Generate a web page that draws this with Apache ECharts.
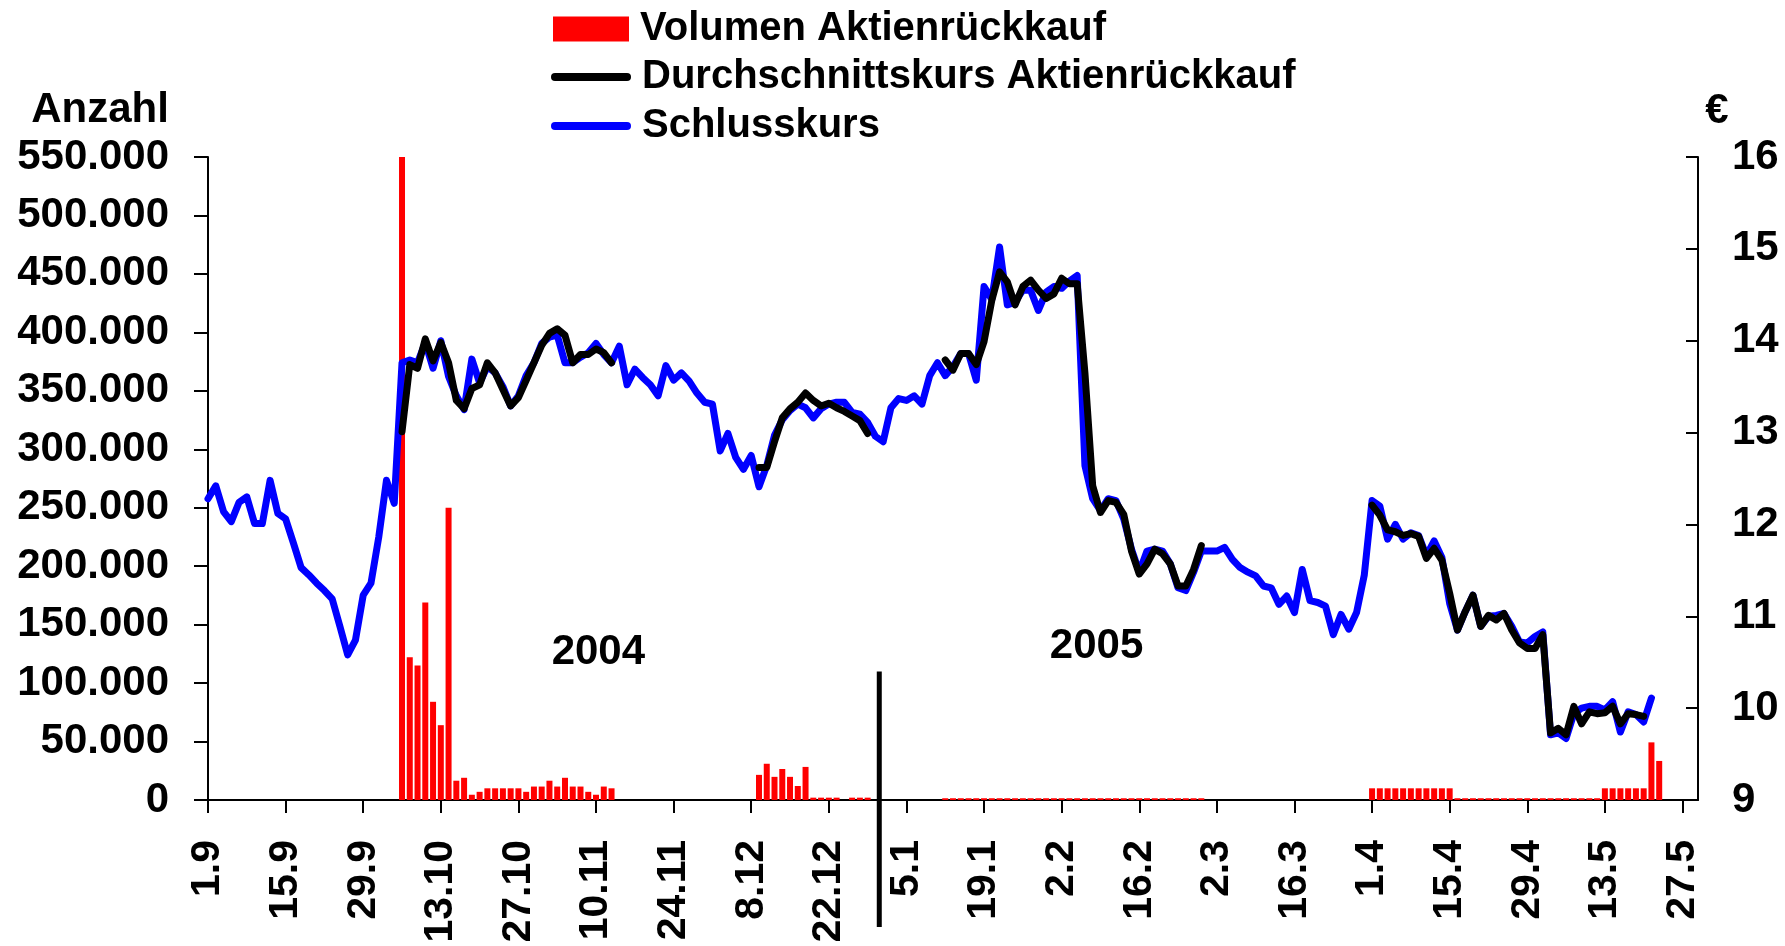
<!DOCTYPE html>
<html>
<head>
<meta charset="utf-8">
<script src="https://cdn.jsdelivr.net/npm/echarts@6/dist/echarts.min.js"></script>
<style>
  html, body { margin: 0; padding: 0; background: #fff; }
  #chart { width: 1785px; height: 946px; }
</style>
</head>
<body>
<div id="chart"></div>
<script>
// Handelstage 1.9.2004 - 31.5.2005
const days = [
  '1.9 2.9 3.9 6.9 7.9 8.9 9.9 10.9 13.9 14.9 15.9 16.9 17.9 20.9 21.9 22.9 23.9 24.9 27.9 28.9 29.9 30.9',
  '1.10 4.10 5.10 6.10 7.10 8.10 11.10 12.10 13.10 14.10 15.10 18.10 19.10 20.10 21.10 22.10 25.10 26.10 27.10 28.10 29.10',
  '1.11 2.11 3.11 4.11 5.11 8.11 9.11 10.11 11.11 12.11 15.11 16.11 17.11 18.11 19.11 22.11 23.11 24.11 25.11 26.11 29.11 30.11',
  '1.12 2.12 3.12 6.12 7.12 8.12 9.12 10.12 13.12 14.12 15.12 16.12 17.12 20.12 21.12 22.12 23.12 24.12 27.12 28.12 29.12 30.12 31.12',
  '3.1 4.1 5.1 6.1 7.1 10.1 11.1 12.1 13.1 14.1 17.1 18.1 19.1 20.1 21.1 24.1 25.1 26.1 27.1 28.1 31.1',
  '1.2 2.2 3.2 4.2 7.2 8.2 9.2 10.2 11.2 14.2 15.2 16.2 17.2 18.2 21.2 22.2 23.2 24.2 25.2 28.2',
  '1.3 2.3 3.3 4.3 7.3 8.3 9.3 10.3 11.3 14.3 15.3 16.3 17.3 18.3 21.3 22.3 23.3 24.3 29.3 30.3 31.3',
  '1.4 4.4 5.4 6.4 7.4 8.4 11.4 12.4 13.4 14.4 15.4 18.4 19.4 20.4 21.4 22.4 25.4 26.4 27.4 28.4 29.4',
  '2.5 3.5 4.5 5.5 6.5 9.5 10.5 11.5 12.5 13.5 16.5 17.5 18.5 19.5 20.5 23.5 24.5 25.5 26.5 27.5 30.5 31.5'
].join(' ').split(' ')

// Stückzahl Rückkauf je Tag
const volumen = [
  null, null, null, null, null, null, null, null, null, null,
  null, null, null, null, null, null, null, null, null, null,
  null, null, null, null, null, 550000, 122000, 115000, 169000, 84000,
  64000, 250000, 16500, 19000, 4500, 7000, 10000, 10000, 10000, 10000,
  10000, 7000, 11500, 11500, 16500, 11500, 19000, 11500, 11500, 7000,
  4500, 11500, 10000, null, null, null, null, null, null, null,
  null, null, null, null, null, null, null, null, null, null,
  null, 21500, 31000, 19800, 26500, 19800, 12000, 28300, 2000, 2000,
  2000, 2000, null, 2000, 2000, 2000, null, null, null, null,
  null, null, null, null, null, 1500, 1500, 1500, 1500, 1500,
  1500, 1500, 1500, 1500, 1500, 1500, 1500, 1500, 1500, 1500,
  1500, 1500, 1500, 1500, 1500, 1500, 1500, 1500, 1500, 1500,
  1500, 1500, 1500, 1500, 1500, 1500, 1500, 1500, 1500, null,
  null, null, null, null, null, null, null, null, null, null,
  null, null, null, null, null, null, null, null, null, null,
  10000, 10000, 10000, 10000, 10000, 10000, 10000, 10000, 10000, 10000,
  10000, 1500, 1500, 1500, 1500, 1500, 1500, 1500, 1500, 1500,
  1500, 1500, 1500, 1500, 1500, 1500, 1500, 1500, 1500, 1500,
  10000, 10000, 10000, 10000, 10000, 10000, 49300, 33400, null, null,
  null, null, null
]

// Durchschnittskurs Rückkauf (€)
const durchschnitt = [
  null, null, null, null, null, null, null, null, null, null,
  null, null, null, null, null, null, null, null, null, null,
  null, null, null, null, null, 13.01, 13.74, 13.70, 14.02, 13.78,
  13.98, 13.76, 13.35, 13.26, 13.48, 13.52, 13.76, 13.65, 13.47, 13.29,
  13.38, 13.57, 13.76, 13.95, 14.08, 14.13, 14.06, 13.76, 13.85, 13.85,
  13.91, 13.87, 13.76, null, null, null, null, null, null, null,
  null, null, null, null, null, null, null, null, null, null,
  null, 12.62, 12.62, 12.90, 13.16, 13.26, 13.33, 13.43, 13.35, 13.29,
  13.32, 13.27, 13.23, 13.18, 13.13, 12.99, null, null, null, null,
  null, null, null, null, null, 13.79, 13.68, 13.86, 13.86, 13.74,
  13.99, 14.44, 14.75, 14.64, 14.39, 14.59, 14.66, 14.55, 14.46, 14.51,
  14.68, 14.62, 14.62, 13.65, 12.42, 12.13, 12.26, 12.24, 12.11, 11.71,
  11.46, 11.57, 11.73, 11.68, 11.57, 11.33, 11.33, 11.51, 11.77, null,
  null, null, null, null, null, null, null, null, null, null,
  null, null, null, null, null, null, null, null, null, null,
  12.21, 12.10, 11.94, 11.92, 11.88, 11.90, 11.87, 11.63, 11.74, 11.61,
  11.25, 10.85, 11.05, 11.23, 10.89, 11.01, 10.96, 11.03, 10.85, 10.71,
  10.65, 10.65, 10.80, 9.73, 9.78, 9.71, 10.02, 9.83, 9.96, 9.94,
  9.95, 10.02, 9.83, 9.94, 9.93, 9.91, null, null, null, null,
  null, null, null
]

// Schlusskurs (€)
const schlusskurs = [
  12.28, 12.42, 12.14, 12.03, 12.24, 12.30, 12.01, 12.01, 12.48, 12.12,
  12.06, 11.80, 11.53, 11.45, 11.36, 11.28, 11.19, 10.89, 10.58, 10.74,
  11.23, 11.36, 11.86, 12.48, 12.23, 13.76, 13.79, 13.76, 13.98, 13.70,
  14.00, 13.61, 13.40, 13.25, 13.80, 13.54, 13.72, 13.65, 13.50, 13.29,
  13.40, 13.62, 13.76, 13.97, 14.04, 14.06, 13.76, 13.76, 13.82, 13.87,
  13.97, 13.85, 13.76, 13.94, 13.52, 13.69, 13.60, 13.52, 13.40, 13.73,
  13.57, 13.65, 13.56, 13.43, 13.33, 13.31, 12.80, 12.99, 12.73, 12.60,
  12.75, 12.41, 12.64, 12.97, 13.14, 13.24, 13.31, 13.27, 13.16, 13.26,
  13.31, 13.33, 13.33, 13.22, 13.20, 13.11, 12.96, 12.90, 13.27, 13.37,
  13.35, 13.40, 13.31, 13.62, 13.76, 13.62, 13.72, 13.86, 13.86, 13.57,
  14.59, 14.45, 15.02, 14.39, 14.42, 14.55, 14.55, 14.33, 14.53, 14.59,
  14.57, 14.65, 14.71, 12.64, 12.28, 12.15, 12.28, 12.26, 12.06, 11.73,
  11.48, 11.71, 11.73, 11.71, 11.57, 11.31, 11.28, 11.48, 11.71, 11.71,
  11.71, 11.75, 11.62, 11.53, 11.48, 11.44, 11.33, 11.31, 11.13, 11.22,
  11.04, 11.51, 11.17, 11.15, 11.11, 10.80, 11.02, 10.86, 11.04, 11.45,
  12.26, 12.20, 11.84, 12.00, 11.84, 11.91, 11.88, 11.66, 11.82, 11.64,
  11.14, 10.85, 11.05, 11.23, 10.89, 11.00, 11.01, 11.03, 10.89, 10.72,
  10.71, 10.78, 10.83, 9.71, 9.73, 9.67, 9.94, 10.00, 10.02, 10.02,
  9.98, 10.07, 9.74, 9.96, 9.93, 9.85, 10.11, null, null, null,
  null, null, null
]

// Jahreswechsel (Kategorie-Position) und Jahreszahlen
const yearBreakAt = 86.5
const years = [
  { text: '2004', at: 50.3, value: 126000 },
  { text: '2005', at: 114.5, value: 131000 }
]

const black = '#000000'
const fontName = '"Liberation Sans", Arial, sans-serif'
const axisFont = { fontFamily: 'Liberation Sans', fontWeight: 'bold', fontSize: 42, color: black }
const legendText = { fontFamily: 'Liberation Sans', fontWeight: 'bold', fontSize: 40, color: black, padding: [0, 0, 0, 6] }
const pill = 'path://M4,0 L76,0 A4,4 0 0 1 76,8 L4,8 A4,4 0 0 1 4,0 Z'

function thousands(v) {
  return String(v).replace(/\B(?=(\d{3})+(?!\d))/g, '.')
}

const chart = echarts.init(document.getElementById('chart'))

chart.setOption({
  animation: false,
  grid: { left: 208, right: 87, top: 157, bottom: 146, outerBoundsMode: 'none' },
  legend: [
    {
      data: [{ name: 'Volumen Aktienrückkauf', icon: 'rect' }],
      left: 553, top: 9, padding: 0, itemWidth: 76, itemHeight: 25,
      selectedMode: false, textStyle: legendText
    },
    {
      data: [{ name: 'Durchschnittskurs Aktienrückkauf', icon: pill }],
      left: 551, top: 57, padding: 0, itemWidth: 80, itemHeight: 8,
      selectedMode: false, textStyle: legendText
    },
    {
      data: [{ name: 'Schlusskurs', icon: pill }],
      left: 551, top: 106, padding: 0, itemWidth: 80, itemHeight: 8,
      selectedMode: false, textStyle: legendText
    }
  ],
  xAxis: {
    type: 'category',
    data: days,
    boundaryGap: false,
    axisLine: { lineStyle: { color: black, width: 2 } },
    axisTick: { interval: 9, length: 13, lineStyle: { color: black, width: 2 } },
    axisLabel: {
      interval: 9, rotate: 90, margin: 40,
      fontFamily: 'Liberation Sans', fontWeight: 'bold', fontSize: 41, color: black
    },
    splitLine: { show: false }
  },
  yAxis: [
    {
      type: 'value', position: 'left', min: 0, max: 550000, interval: 50000,
      axisLine: { show: true, lineStyle: { color: black, width: 2 } },
      axisTick: { show: true, length: 14, lineStyle: { color: black, width: 2 } },
      axisLabel: { margin: 39, formatter: thousands, ...axisFont },
      splitLine: { show: false }
    },
    {
      type: 'value', position: 'right', min: 9, max: 16, interval: 1,
      axisLine: { show: true, lineStyle: { color: black, width: 2 } },
      axisTick: { show: true, inside: true, length: 12, lineStyle: { color: black, width: 2 } },
      axisLabel: { margin: 34, ...axisFont },
      splitLine: { show: false }
    }
  ],
  series: [
    {
      name: 'Volumen Aktienrückkauf',
      type: 'bar',
      yAxisIndex: 0,
      data: volumen,
      barWidth: 6,
      itemStyle: { color: '#FF0000' }
    },
    {
      name: 'Schlusskurs',
      type: 'line',
      yAxisIndex: 1,
      data: schlusskurs,
      symbol: 'none',
      itemStyle: { color: '#0000FF' },
      lineStyle: { color: '#0000FF', width: 7, cap: 'round', join: 'round' }
    },
    {
      name: 'Durchschnittskurs Aktienrückkauf',
      type: 'line',
      yAxisIndex: 1,
      data: durchschnitt,
      symbol: 'none',
      connectNulls: false,
      itemStyle: { color: black },
      lineStyle: { color: black, width: 7, cap: 'round', join: 'round' }
    }
  ]
})

// Pixel einer (auch gebrochenen) Kategorie-Position
function xAt(i) {
  const a = chart.convertToPixel({ xAxisIndex: 0 }, Math.floor(i))
  const b = chart.convertToPixel({ xAxisIndex: 0 }, Math.ceil(i))
  return a + (b - a) * (i - Math.floor(i))
}
const yBase = chart.convertToPixel({ yAxisIndex: 0 }, 0)
const yTop = chart.convertToPixel({ yAxisIndex: 0 }, 110000)
const xBreak = xAt(yearBreakAt)

chart.setOption({
  graphic: [
    {
      type: 'line',
      shape: { x1: xBreak, y1: yTop, x2: xBreak, y2: yBase + 127 },
      style: { stroke: black, lineWidth: 5 },
      z: 100
    },
    ...years.map(y => ({
      type: 'text',
      x: xAt(y.at),
      y: chart.convertToPixel({ yAxisIndex: 0 }, y.value),
      style: {
        text: y.text, align: 'center', verticalAlign: 'middle',
        font: 'bold 42px ' + fontName, fill: black
      }
    })),
    {
      type: 'text', x: 100, y: 110,
      style: { text: 'Anzahl', align: 'center', verticalAlign: 'middle', font: 'bold 42px ' + fontName, fill: black }
    },
    {
      type: 'text', x: 1717, y: 111,
      style: { text: '€', align: 'center', verticalAlign: 'middle', font: 'bold 42px ' + fontName, fill: black }
    }
  ]
})
</script>
</body>
</html>
